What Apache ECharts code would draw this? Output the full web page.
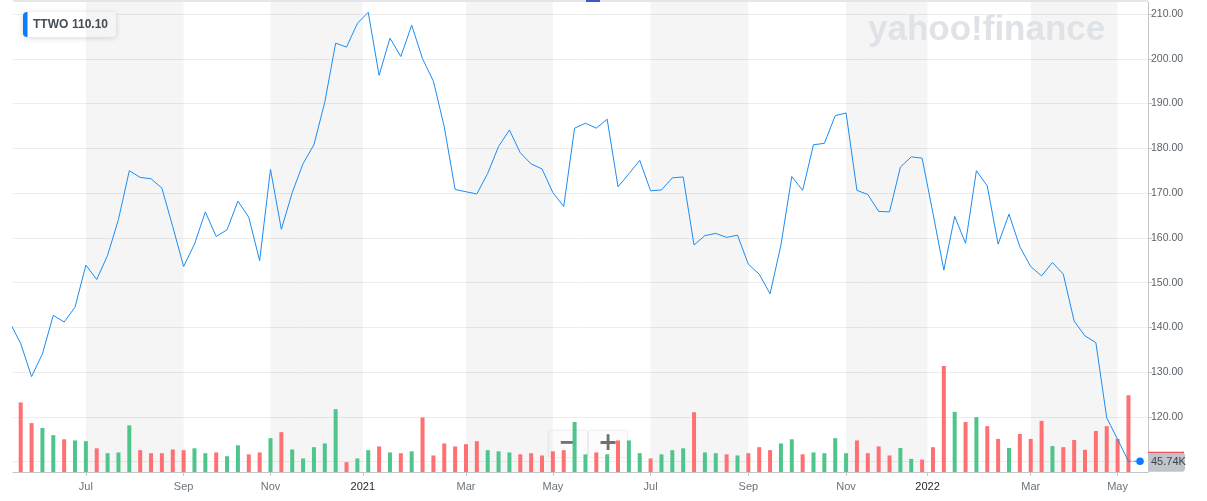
<!DOCTYPE html>
<html><head><meta charset="utf-8">
<script src="https://cdn.jsdelivr.net/npm/echarts@6/dist/echarts.min.js"></script>
<style>html,body{margin:0;padding:0;background:#fff}#c{width:1207px;height:501px}</style>
</head><body><div id="c"></div>
<script>
// ---- data ----
const symbol = 'TTWO';
const firstWeek = '2020-05-11';           // week of closes[0]; volumes start one week later
const closes = [141.1,
  136.4,129.0,134.1,142.7,141.2,144.5,153.9,150.7,156.1,164.1,
  175.0,173.5,173.2,171.1,162.5,153.6,158.6,165.8,160.3,161.8,
  168.2,164.6,154.9,175.3,161.9,170.1,176.6,180.8,190.3,203.5,
  202.6,207.9,210.4,196.3,204.6,200.5,207.5,200.0,195.0,184.8,
  170.8,170.3,169.8,174.4,180.4,184.1,179.0,176.5,175.4,170.1,
  167.0,184.5,185.6,184.5,186.5,171.4,174.3,177.3,170.5,170.7,
  173.4,173.6,158.4,160.5,161.0,160.1,160.6,154.1,151.9,147.5,
  158.4,173.7,170.6,180.8,181.1,187.3,187.9,170.6,169.7,165.9,
  165.8,175.8,178.1,177.8,165.5,152.8,164.8,158.8,175.0,171.6,
  158.6,165.3,158.0,153.6,151.5,154.5,151.9,141.4,138.1,136.6,
  119.8,115.0,110.1];
const volumesM = [18.5,13.0,11.7,9.8,8.7,8.4,8.2,6.3,5.0,5.2,
  12.4,5.8,5.0,5.0,6.0,5.8,6.3,5.0,5.2,4.2,
  7.1,4.7,5.2,9.0,10.6,6.0,3.6,6.6,7.6,16.7,
  2.6,3.6,5.8,6.8,5.2,5.0,5.5,14.5,4.4,7.6,
  6.8,7.4,8.2,5.8,5.5,5.2,4.7,5.0,4.4,5.5,
  5.8,13.3,4.7,5.2,4.7,8.4,8.4,5.0,3.6,4.7,
  5.8,6.3,15.9,5.2,5.0,4.7,4.4,5.0,6.6,5.8,
  7.6,8.7,4.7,5.2,5.0,9.0,5.0,8.4,5.0,6.8,
  4.4,6.4,3.5,3.3,6.6,28.2,16.0,13.3,14.6,12.2,
  8.8,6.4,10.1,8.8,13.6,6.9,6.6,8.5,5.9,10.9,
  12.2,8.8,20.4];
const tickWeeks = [6,15,23,31.5,41,49,58,67,76,83.5,93,101];
const tickLabels = ['Jul','Sep','Nov','2021','Mar','May','Jul','Sep','Nov','2022','Mar','May'];
const priceTicks = [110,120,130,140,150,160,170,180,190,200,210];
const lastVolumeLabel = '45.74K';

// ---- chart ----
const RED = '#ff7073', GREEN = '#4ec58b', BLUE = '#1b8cf2';
const FONT = '"Liberation Sans", Arial, sans-serif';
const chart = echarts.init(document.getElementById('c'), null, {renderer: 'canvas'});

const lineData = closes.map((v, k) => [k - 1, v]);
const barData = volumesM.map((v, i) => ({
  value: [i, v],
  itemStyle: {color: closes[i + 1] >= closes[i] ? GREEN : RED}
}));
const bands = [];
for (let i = 0; i + 1 < tickWeeks.length; i += 2) bands.push([{xAxis: tickWeeks[i]}, {xAxis: tickWeeks[i + 1]}]);

const xMin = -0.71, xMax = 103.8;
chart.setOption({
  animation: false,
  grid: {left: 13, right: 59, top: 2, bottom: 29},
  xAxis: {
    type: 'value', min: xMin, max: xMax,
    splitLine: {show: false},
    axisLine: {show: true, onZero: false, lineStyle: {color: '#c3c7cc', width: 1}},
    axisTick: {show: true, customValues: tickWeeks, length: 4, lineStyle: {color: '#c3c7cc'}},
    axisLabel: {
      customValues: tickWeeks, margin: 9, fontFamily: FONT, fontSize: 11, color: '#6b737b',
      formatter: v => {
        const t = tickLabels[tickWeeks.indexOf(v)] || '';
        return /^\d{4}$/.test(t) ? '{y|' + t + '}' : t;
      },
      rich: {y: {color: '#26292d', fontFamily: FONT, fontSize: 11}}
    }
  },
  yAxis: [{
    type: 'value', position: 'right', min: 107.7, max: 212.68,
    axisLine: {show: true, onZero: false, lineStyle: {color: '#c3c7cc'}},
    axisTick: {show: true, customValues: priceTicks, length: 4, lineStyle: {color: '#c3c7cc'}},
    axisLabel: {customValues: priceTicks, margin: 3, fontFamily: FONT, fontSize: 10.5, color: '#5b636a',
      formatter: v => v.toFixed(2)},
    splitLine: {show: true, lineStyle: {color: '#ededed', width: 1}}
  }, {
    type: 'value', min: 0, max: 125, show: false, splitLine: {show: false},
    axisLine: {show: false, onZero: false}
  }],
  series: [{
    type: 'line', data: [], silent: true, z: 0,
    markArea: {silent: true, itemStyle: {color: 'rgba(0,0,0,0.04)'}, data: bands}
  }, {
    type: 'bar', yAxisIndex: 1, data: barData, barWidth: 4, silent: true, z: 2
  }, {
    type: 'line', yAxisIndex: 0, data: lineData, showSymbol: false, symbol: 'none',
    lineStyle: {color: BLUE, width: 1}, z: 3, silent: true
  }]
});

const last = closes.length - 1;
const p = chart.convertToPixel({xAxisIndex: 0, yAxisIndex: 0}, [last - 1, closes[last]]);
const right = chart.convertToPixel({xAxisIndex: 0}, xMax);
const left = chart.convertToPixel({xAxisIndex: 0}, xMin);
const dotX = right - 8;

chart.setOption({
  graphic: [
    // top navigator border
    {type: 'rect', shape: {x: left, y: 0, width: right - left, height: 2}, style: {fill: '#e4e6e9'}, silent: true},
    {type: 'rect', shape: {x: 586, y: 0, width: 14, height: 2}, style: {fill: '#4356c7'}, silent: true},
    // watermark
    {type: 'text', left: 868, top: 13, silent: true, z: 1,
      style: {text: 'yahoo!finance', font: 'bold 35px ' + FONT, fill: '#dfe2e6'}},
    // symbol badge
    {type: 'group', left: 23, top: 12, z: 10, children: [
      {type: 'rect', shape: {x: 0, y: 0, width: 93, height: 25, r: 4},
        style: {fill: '#fff', shadowBlur: 6, shadowColor: 'rgba(0,0,0,0.16)', shadowOffsetY: 1}},
      {type: 'rect', shape: {x: 0, y: 0, width: 4.5, height: 25, r: [4, 0, 0, 4]}, style: {fill: '#0a7cff'}},
      {type: 'text', x: 10, y: 12.5, style: {text: symbol, font: 'bold 12px ' + FONT, fill: '#464e56', verticalAlign: 'middle'}},
      {type: 'text', x: 49, y: 12.5, style: {text: closes[last].toFixed(2), font: 'bold 12px ' + FONT, fill: '#464e56', verticalAlign: 'middle'}}
    ]},
    // last-price connector and dot
    {type: 'line', shape: {x1: p[0], y1: p[1], x2: dotX, y2: p[1]}, z: 10,
      style: {stroke: BLUE, lineWidth: 1, lineDash: [3, 2]}, silent: true},
    {type: 'circle', shape: {cx: dotX, cy: p[1], r: 3.8}, style: {fill: '#0a7cff'}, z: 11, silent: true},
    // price / volume labels at the right axis
    {type: 'rect', shape: {x: right, y: p[1] - 9.5, width: 36, height: 2}, style: {fill: '#ff333a'}, z: 10, silent: true},
    {type: 'rect', shape: {x: right, y: p[1] - 8.5, width: 37, height: 19, r: [0, 3, 3, 0]}, style: {fill: '#c1c5cb'}, z: 11, silent: true},
    {type: 'text', x: right + 3, y: p[1] + 1, z: 12, silent: true,
      style: {text: lastVolumeLabel, font: '11px ' + FONT, fill: '#3d434a', verticalAlign: 'middle'}},
    // zoom controls
    {type: 'group', left: 548, top: 430, z: 20, children: [
      {type: 'rect', shape: {x: 0, y: 0, width: 39, height: 27, r: 2},
        style: {fill: 'rgba(255,255,255,0.75)', stroke: 'rgba(0,0,0,0.05)', shadowBlur: 4, shadowColor: 'rgba(0,0,0,0.08)'}},
      {type: 'rect', shape: {x: 40, y: 0, width: 39, height: 27, r: 2},
        style: {fill: 'rgba(255,255,255,0.75)', stroke: 'rgba(0,0,0,0.05)', shadowBlur: 4, shadowColor: 'rgba(0,0,0,0.08)'}},
      {type: 'text', x: 19.5, y: 13.5, style: {text: '−', font: 'bold 24px "DejaVu Sans"', fill: '#707070', align: 'center', verticalAlign: 'middle'}},
      {type: 'text', x: 59.5, y: 13.5, style: {text: '+', font: 'bold 24px "DejaVu Sans"', fill: '#707070', align: 'center', verticalAlign: 'middle'}}
    ]}
  ]
});
</script></body></html>
